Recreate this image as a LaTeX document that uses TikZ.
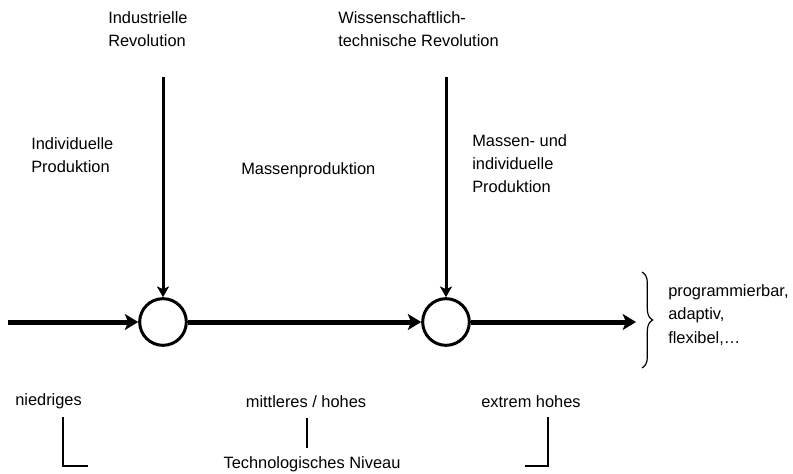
\documentclass[tikz,border=0pt]{standalone}
\usepackage{fontspec}
\setmainfont{Liberation Sans}
\usetikzlibrary{arrows.meta}
\usetikzlibrary{decorations.pathreplacing}

\begin{document}
\begin{tikzpicture}[x=0.75pt,y=-0.75pt,
  lbl/.style={inner sep=0pt,anchor=base west,align=left,font=\fontsize{12.3}{17.6}\selectfont},
  ctr/.style={lbl,anchor=base,align=center},
  knot/.style={draw,circle,line width=2.25pt,minimum size=35pt,inner sep=0pt},
  flow/.style={line width=3.75pt,-{Stealth[length=10pt,width=12pt,inset=2.5pt]}},
  drive/.style={line width=2.25pt,-{Stealth[length=8pt,width=9pt,inset=2pt]}},
  level/.style={line width=0.8pt}]

\useasboundingbox (0,0) rectangle (793,474);

% the two revolutions on the line
\node[knot] (ind) at (163,322) {};
\node[knot] (wtr) at (446,322) {};
\coordinate (start) at (8,322);
\coordinate (end) at (636,322);

\draw[flow] (start) -- (ind);
\draw[flow] (ind) -- (wtr);
\draw[flow] (wtr) -- (end);

\coordinate (indtop) at (163,77);
\coordinate (wtrtop) at (446,77);
\draw[drive] (indtop) -- (ind);
\draw[drive] (wtrtop) -- (wtr);

% base = last line of a node
\node[lbl] (indrev) at (108,47) {Industrielle\\Revolution};
\node[lbl] (wtrev) at (338,47) {Wissenschaftlich-\\technische Revolution};
\node[lbl] (indprod) at (31,173) {Individuelle\\Produktion};
\node[lbl] (massprod) at (241,175) {Massenproduktion};
\node[lbl] (mixprod) at (472,193) {Massen- und\\individuelle\\Produktion};

% result
\draw[decorate,decoration={brace,amplitude=8pt},line width=0.9pt] (642,272) -- (642,368);
\node[lbl] (props) at (668,343) {programmierbar,\\adaptiv,\\flexibel,…};

% technological level
\node[lbl] (low) at (15,405) {niedriges};
\node[ctr] (mid) at (306,407) {mittleres / hohes};
\node[ctr] (high) at (531,407) {extrem hohes};
\node[ctr] (niveau) at (312,468) {Technologisches Niveau};

\draw[level] (63,417) |- (88,466);
\draw[level,shorten <=8pt,shorten >=6pt] (mid.south -| 307,0) -- (niveau.north -| 307,0);
\draw[level] (548,417) |- (525,466);

\end{tikzpicture}
\end{document}
